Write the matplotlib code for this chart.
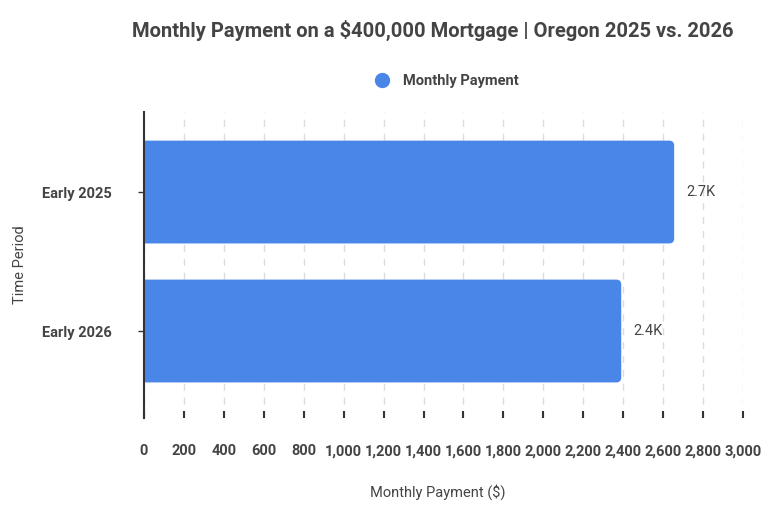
import matplotlib.pyplot as plt
from matplotlib.patches import FancyBboxPatch
from matplotlib.lines import Line2D
from matplotlib.ticker import FuncFormatter

periods = ["Early 2025", "Early 2026"]
payments = [2655, 2390]
value_labels = ["2.7K", "2.4K"]

bar_color = "#4a86e8"
text_color = "#444444"

plt.rcParams['font.family'] = ['Roboto', 'DejaVu Sans']

fig = plt.figure(figsize=(7.77, 5.07), dpi=100)
ax = fig.add_axes([0.1853, 0.1755, 0.7710, 0.6036])

ypos = list(range(len(periods)))
bars = ax.barh(ypos, payments, height=0.74, color=bar_color)

ax.set_xlim(0, 3000)
ax.set_ylim(1.626, -0.576)

# swap plain bars for ones with rounded right corners
fig.canvas.draw()
px_x = (ax.get_xlim()[1] - ax.get_xlim()[0]) / ax.bbox.width
px_y = abs(ax.get_ylim()[1] - ax.get_ylim()[0]) / ax.bbox.height
for b in bars:
    b.set_visible(False)
    x, y, w, h = b.get_x(), b.get_y(), b.get_width(), b.get_height()
    r = 5 * px_x
    p = FancyBboxPatch((x - 4 * r, y), w + 4 * r, h,
                       boxstyle=f"round,pad=0,rounding_size={r}",
                       mutation_aspect=px_y / px_x,
                       facecolor=bar_color, edgecolor="none", zorder=2)
    ax.add_patch(p)

for yy, v, lab in zip(ypos, payments, value_labels):
    ax.text(v + 60, yy, lab, va="center", ha="left", fontsize=10.5, color=text_color)

ax.set_xticks(range(0, 3001, 200))
ax.xaxis.set_major_formatter(FuncFormatter(lambda v, p: f"{int(v):,}"))
ax.set_yticks(ypos)
ax.set_yticklabels(periods)

ax.grid(axis="x", color="#dcdcdc", linestyle=(0, (5, 5)), linewidth=1, zorder=0)
ax.set_axisbelow(True)

for s in ["top", "right", "bottom"]:
    ax.spines[s].set_visible(False)
ax.spines["left"].set_color("#333333")
ax.spines["left"].set_linewidth(1.5)
ax.spines["left"].set_zorder(3)

ax.tick_params(axis="x", direction="in", length=5, width=1.5, color="#333333",
               pad=19, labelsize=10.5, labelcolor=text_color)
ax.tick_params(axis="y", direction="out", length=4, width=1, color="#333333",
               pad=19, labelsize=10.5, labelcolor=text_color)
for t in ax.get_xticklabels() + ax.get_yticklabels():
    t.set_fontweight("bold")

ax.set_xlabel("Monthly Payment ($)", fontsize=10.5, color=text_color)
ax.set_ylabel("Time Period", fontsize=10.5, color=text_color)
ax.xaxis.set_label_coords(0.49, -0.215)
ax.yaxis.set_label_coords(-0.195, 0.5)

fig.suptitle("Monthly Payment on a $400,000 Mortgage | Oregon 2025 vs. 2026",
             x=0.557, y=0.96, fontsize=14.5, fontweight="bold", color=text_color)

handle = Line2D([], [], marker="o", linestyle="none", markersize=10,
                markerfacecolor=bar_color, markeredgecolor=bar_color)
leg = fig.legend([handle], ["Monthly Payment"], loc="center", bbox_to_anchor=(0.57, 0.84),
                 frameon=False, handletextpad=0.4, prop={"weight": "bold", "size": 10.5})
for t in leg.get_texts():
    t.set_color(text_color)

fig.savefig("out.png", dpi=100)
